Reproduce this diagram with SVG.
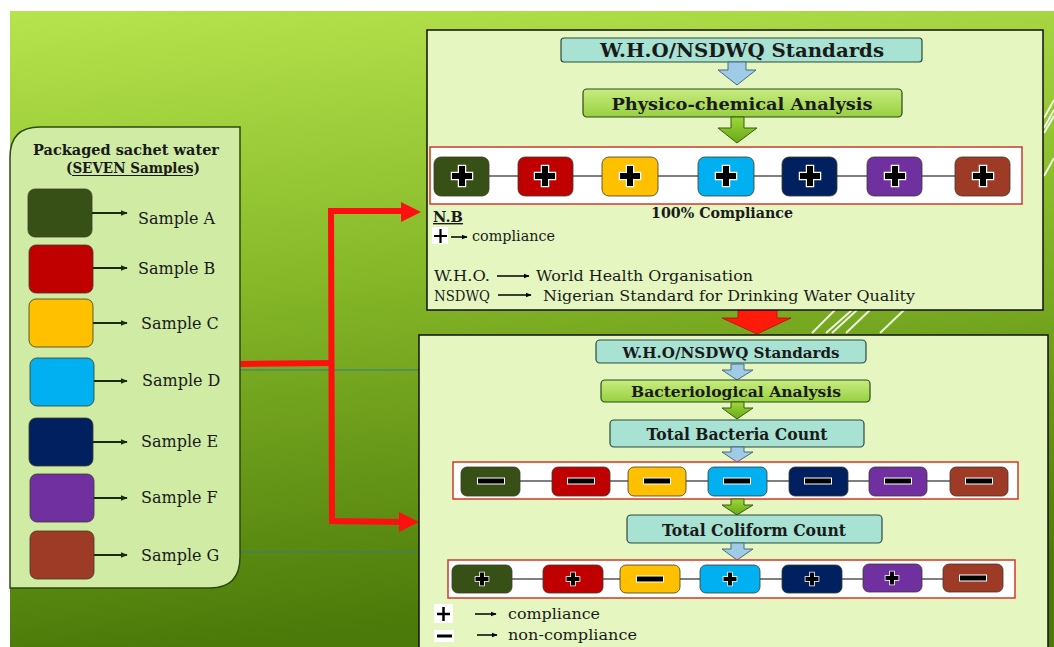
<svg xmlns="http://www.w3.org/2000/svg" width="1054" height="647" viewBox="0 0 1054 647">
<defs>
<linearGradient id="bg" x1="0" y1="0" x2="0.15" y2="1">
<stop offset="0" stop-color="#b6e44e"/>
<stop offset="0.45" stop-color="#86b828"/>
<stop offset="1" stop-color="#4c7a0a"/>
</linearGradient>
<linearGradient id="grn" x1="0" y1="0" x2="0" y2="1">
<stop offset="0" stop-color="#c8ec80"/>
<stop offset="1" stop-color="#98d040"/>
</linearGradient>
<linearGradient id="grnArrow" x1="0" y1="0" x2="0" y2="1">
<stop offset="0" stop-color="#9ad83a"/>
<stop offset="1" stop-color="#6aa818"/>
</linearGradient>
<path id="plus" d="M-3,-10h6v7h7v6h-7v7h-6v-7h-7v-6h7z" fill="#000" stroke="#fff" stroke-width="2.5" stroke-linejoin="miter" paint-order="stroke"/>
<rect id="minus" x="-13" y="-2.5" width="26" height="5" fill="#000" stroke="#fff" stroke-width="2" paint-order="stroke"/>
<marker id="ah" viewBox="0 0 10 10" refX="9" refY="5" markerWidth="7" markerHeight="7" markerUnits="userSpaceOnUse" orient="auto">
<path d="M0,1 L10,5 L0,9 z" fill="#1a2a08"/>
</marker>
<marker id="ahk" viewBox="0 0 10 10" refX="9" refY="5" markerWidth="6" markerHeight="6" markerUnits="userSpaceOnUse" orient="auto">
<path d="M0,1 L10,5 L0,9 z" fill="#000"/>
</marker>
</defs>
<style>
.t{font-family:"DejaVu Serif","Liberation Serif",serif;fill:#1a1a1a}
.b{font-family:"DejaVu Serif","Liberation Serif",serif;font-weight:bold;fill:#1a1a1a}
.teal{fill:#a8e2d2;stroke:#2c4a3c;stroke-width:1.2}
.gbox{fill:url(#grn);stroke:#2c4a1c;stroke-width:1.2}
.panel{fill:#e5f6c0;stroke:#111;stroke-width:1.5}
.row{fill:#fff;stroke:#d03a2a;stroke-width:1.5}
.link{stroke:#555;stroke-width:1.5}
.sq{stroke:#3a3a2a;stroke-width:0.8}
.blueA{fill:#9fcbe6;stroke:#4a6a80;stroke-width:1}
.greenA{fill:url(#grnArrow);stroke:#3a5a10;stroke-width:1}
.sarrow{stroke:#1a2a08;stroke-width:2;fill:none;marker-end:url(#ah)}
.karrow{stroke:#000;stroke-width:1.5;fill:none;marker-end:url(#ahk)}
</style>

<rect x="0" y="0" width="1054" height="647" fill="#fff"/>
<rect x="10" y="11" width="1044" height="636" fill="url(#bg)"/>

<!-- white decorative stripes -->
<g stroke="#fff" stroke-width="2" opacity="0.85">
<line x1="1044" y1="118" x2="1054" y2="100"/>
<line x1="1044" y1="128" x2="1054" y2="110"/>
<line x1="1044" y1="133" x2="1054" y2="116"/>
<line x1="1044" y1="176" x2="1054" y2="158"/>
<line x1="812" y1="333" x2="835" y2="310"/>
<line x1="826" y1="333" x2="852" y2="310"/>
<line x1="832" y1="333" x2="857" y2="310"/>
<line x1="846" y1="333" x2="870" y2="310"/>
<line x1="880" y1="333" x2="904" y2="310"/>
</g>

<!-- connectors -->
<g id="connectors">
<line x1="240" y1="370" x2="420" y2="370" stroke="#2f7f86" stroke-width="1.2"/>
<line x1="240" y1="552" x2="420" y2="552" stroke="#2f7f86" stroke-width="1.2"/>
<g fill="none" stroke="#ff1010" stroke-width="6" stroke-linejoin="miter">
<polyline points="240,364 331,363"/>
<polyline points="404,211 331,211 332,521 400,522"/>
</g>
<path d="M401,202 L421,212 L401,222 z" fill="#ff1010"/>
<path d="M399,512 L419,522 L399,532 z" fill="#ff1010"/>
<path d="M738,309 H777 V318 H791 L757,334 L722,318 H738 z" fill="#ff1a0a" stroke="#b01010" stroke-width="0.8"/>
</g>

<!-- left panel -->
<g id="samples">
<path d="M10,588 V157 Q10,127 40,127 H240 V557 Q240,588 210,588 Z" fill="#cfeba4" stroke="#2e4a10" stroke-width="1.5"/>
<text class="b" x="126" y="155" text-anchor="middle" font-size="15" textLength="186" lengthAdjust="spacingAndGlyphs">Packaged sachet water</text>
<text class="b" x="133" y="173" text-anchor="middle" font-size="14" textLength="134" lengthAdjust="spacingAndGlyphs">(SEVEN Samples)</text>
<line x1="72" y1="175.5" x2="193" y2="175.5" stroke="#1a1a1a" stroke-width="1"/>
<g id="sA"><rect class="sq" x="28" y="189" width="64" height="48" rx="7" fill="#375016"/><line class="sarrow" x1="92" y1="213" x2="127" y2="213"/><text class="t" x="138" y="224" font-size="16">Sample A</text></g>
<g id="sB"><rect class="sq" x="29" y="245" width="64" height="48" rx="7" fill="#c00000"/><line class="sarrow" x1="93" y1="268" x2="127" y2="268"/><text class="t" x="138" y="274" font-size="16">Sample B</text></g>
<g id="sC"><rect class="sq" x="29" y="299" width="64" height="48" rx="7" fill="#ffc000"/><line class="sarrow" x1="93" y1="323" x2="127" y2="323"/><text class="t" x="141" y="329" font-size="16">Sample C</text></g>
<g id="sD"><rect class="sq" x="30" y="358" width="64" height="48" rx="7" fill="#00b0f0"/><line class="sarrow" x1="94" y1="381" x2="127" y2="381"/><text class="t" x="142" y="386" font-size="16">Sample D</text></g>
<g id="sE"><rect class="sq" x="29" y="418" width="64" height="48" rx="7" fill="#002060"/><line class="sarrow" x1="93" y1="442" x2="127" y2="442"/><text class="t" x="141" y="447" font-size="16">Sample E</text></g>
<g id="sF"><rect class="sq" x="30" y="474" width="64" height="48" rx="7" fill="#7030a0"/><line class="sarrow" x1="94" y1="498" x2="127" y2="498"/><text class="t" x="141" y="503" font-size="16">Sample F</text></g>
<g id="sG"><rect class="sq" x="30" y="531" width="64" height="48" rx="7" fill="#9e3b27"/><line class="sarrow" x1="94" y1="555" x2="127" y2="555"/><text class="t" x="141" y="561" font-size="16">Sample G</text></g>
</g>

<!-- top box: physico-chemical -->
<g id="physico">
<rect class="panel" x="427" y="30" width="616" height="280"/>
<g id="std1"><rect class="teal" x="561" y="38" width="361" height="24" rx="3"/>
<text class="b" x="742" y="57" text-anchor="middle" font-size="18" textLength="284" lengthAdjust="spacingAndGlyphs">W.H.O/NSDWQ Standards</text></g>
<path class="blueA" d="M728,62 H746 V70 H756 L737,85 L718,70 H728 z"/>
<g id="pca"><rect class="gbox" x="583" y="89" width="319" height="28" rx="4"/>
<text class="b" x="742" y="110" text-anchor="middle" font-size="16" textLength="261" lengthAdjust="spacingAndGlyphs">Physico-chemical Analysis</text></g>
<path class="greenA" d="M731,117 H744 V128 H757 L737,143 L718,128 H731 z"/>
<g id="row1">
<rect class="row" x="430" y="147" width="592" height="57"/>
<g class="link"><line x1="489" y1="176" x2="518" y2="176"/><line x1="573" y1="176" x2="602" y2="176"/><line x1="658" y1="176" x2="698" y2="176"/><line x1="754" y1="176" x2="782" y2="176"/><line x1="837" y1="176" x2="867" y2="176"/><line x1="922" y1="176" x2="955" y2="176"/></g>
<rect class="sq" x="434" y="157" width="55" height="39" rx="7" fill="#375016"/>
<rect class="sq" x="518" y="157" width="55" height="39" rx="7" fill="#c00000"/>
<rect class="sq" x="602" y="157" width="56" height="39" rx="7" fill="#ffc000"/>
<rect class="sq" x="698" y="157" width="56" height="39" rx="7" fill="#00b0f0"/>
<rect class="sq" x="782" y="157" width="55" height="39" rx="7" fill="#002060"/>
<rect class="sq" x="867" y="157" width="55" height="39" rx="7" fill="#7030a0"/>
<rect class="sq" x="955" y="157" width="55" height="39" rx="7" fill="#9e3b27"/>
<use href="#plus" x="462" y="176"/><use href="#plus" x="545" y="176"/><use href="#plus" x="630" y="176"/><use href="#plus" x="726" y="176"/><use href="#plus" x="810" y="176"/><use href="#plus" x="895" y="176"/><use href="#plus" x="983" y="176"/>
</g>
<text class="b" x="722" y="218" text-anchor="middle" font-size="14" textLength="142" lengthAdjust="spacingAndGlyphs">100% Compliance</text>
<text class="b" x="433" y="222" font-size="14" text-decoration="underline" textLength="30" lengthAdjust="spacingAndGlyphs">N.B</text>
<rect x="432" y="227" width="16" height="17" fill="#fff"/>
<path d="M440.5,229 V243 M434,236 H447" stroke="#000" stroke-width="2.2"/>
<line class="karrow" x1="451" y1="237" x2="467" y2="237"/>
<text class="t" x="472" y="241" font-size="15" textLength="83" lengthAdjust="spacingAndGlyphs">compliance</text>
<text class="t" x="434" y="281" font-size="15" textLength="56" lengthAdjust="spacingAndGlyphs">W.H.O.</text>
<line class="karrow" x1="497" y1="276" x2="529" y2="276"/>
<text class="t" x="536" y="281" font-size="15" textLength="217" lengthAdjust="spacingAndGlyphs">World Health Organisation</text>
<text class="t" x="434" y="301" font-size="15" textLength="56" lengthAdjust="spacingAndGlyphs">NSDWQ</text>
<line class="karrow" x1="498" y1="295" x2="531" y2="295"/>
<text class="t" x="543" y="301" font-size="15" textLength="372" lengthAdjust="spacingAndGlyphs">Nigerian Standard for Drinking Water Quality</text>
</g>

<!-- bottom box: bacteriological -->
<g id="bacterio">
<rect class="panel" x="419" y="335" width="629" height="320"/>
<g id="std2"><rect class="teal" x="596" y="340" width="270" height="23" rx="4"/>
<text class="b" x="731" y="358" text-anchor="middle" font-size="15" textLength="217" lengthAdjust="spacingAndGlyphs">W.H.O/NSDWQ Standards</text></g>
<path class="blueA" d="M731,364 H744 V370 H753 L737,380 L722,370 H731 z"/>
<g id="bact"><rect class="gbox" x="601" y="380" width="269" height="22" rx="4"/>
<text class="b" x="736" y="397" text-anchor="middle" font-size="15" textLength="210" lengthAdjust="spacingAndGlyphs">Bacteriological Analysis</text></g>
<path class="greenA" d="M731,402 H744 V408 H753 L737,419 L722,408 H731 z"/>
<g id="tbc"><rect class="teal" x="610" y="420" width="254" height="27" rx="4"/>
<text class="b" x="737" y="440" text-anchor="middle" font-size="16" textLength="181" lengthAdjust="spacingAndGlyphs">Total Bacteria Count</text></g>
<path class="blueA" d="M731,447 H744 V452 H753 L737,462 L722,452 H731 z"/>
<g id="row2">
<rect class="row" x="453" y="462" width="565" height="37"/>
<g class="link"><line x1="520" y1="481" x2="552" y2="481"/><line x1="610" y1="481" x2="628" y2="481"/><line x1="686" y1="481" x2="708" y2="481"/><line x1="767" y1="481" x2="789" y2="481"/><line x1="848" y1="481" x2="869" y2="481"/><line x1="927" y1="481" x2="950" y2="481"/></g>
<rect class="sq" x="461" y="467" width="59" height="29" rx="6" fill="#375016"/>
<rect class="sq" x="552" y="467" width="58" height="29" rx="6" fill="#c00000"/>
<rect class="sq" x="628" y="467" width="58" height="29" rx="6" fill="#ffc000"/>
<rect class="sq" x="708" y="467" width="59" height="29" rx="6" fill="#00b0f0"/>
<rect class="sq" x="789" y="467" width="59" height="29" rx="6" fill="#002060"/>
<rect class="sq" x="869" y="467" width="58" height="29" rx="6" fill="#7030a0"/>
<rect class="sq" x="950" y="467" width="58" height="29" rx="6" fill="#9e3b27"/>
<use href="#minus" x="491" y="481"/><use href="#minus" x="581" y="481"/><use href="#minus" x="657" y="481"/><use href="#minus" x="737" y="481"/><use href="#minus" x="818" y="481"/><use href="#minus" x="898" y="481"/><use href="#minus" x="979" y="481"/>
</g>
<path class="greenA" d="M731,499 H744 V505 H753 L737,515 L722,505 H731 z"/>
<g id="tcc"><rect class="teal" x="627" y="515" width="255" height="28" rx="4"/>
<text class="b" x="754" y="536" text-anchor="middle" font-size="16" textLength="184" lengthAdjust="spacingAndGlyphs">Total Coliform Count</text></g>
<path class="blueA" d="M731,543 H744 V549 H753 L737,560 L722,549 H731 z"/>
<g id="row3">
<rect class="row" x="448" y="560" width="567" height="38"/>
<g class="link"><line x1="512" y1="579" x2="543" y2="579"/><line x1="603" y1="579" x2="620" y2="579"/><line x1="680" y1="579" x2="700" y2="579"/><line x1="760" y1="579" x2="782" y2="579"/><line x1="842" y1="579" x2="863" y2="579"/><line x1="922" y1="579" x2="943" y2="579"/></g>
<rect class="sq" x="452" y="565" width="60" height="28" rx="6" fill="#375016"/>
<rect class="sq" x="543" y="565" width="60" height="28" rx="6" fill="#c00000"/>
<rect class="sq" x="620" y="565" width="60" height="28" rx="6" fill="#ffc000"/>
<rect class="sq" x="700" y="565" width="60" height="28" rx="6" fill="#00b0f0"/>
<rect class="sq" x="782" y="565" width="60" height="28" rx="6" fill="#002060"/>
<rect class="sq" x="863" y="564" width="59" height="28" rx="6" fill="#7030a0"/>
<rect class="sq" x="943" y="564" width="60" height="28" rx="6" fill="#9e3b27"/>
<use href="#plus" transform="translate(482,579) scale(0.65)"/>
<use href="#plus" transform="translate(573,579) scale(0.65)"/>
<use href="#minus" x="650" y="579"/>
<use href="#plus" transform="translate(730,579) scale(0.65)"/>
<use href="#plus" transform="translate(812,579) scale(0.65)"/>
<use href="#plus" transform="translate(892,578) scale(0.65)"/>
<use href="#minus" x="973" y="578"/>
</g>
<rect x="434" y="604" width="19" height="19" fill="#fff"/>
<path d="M443.5,607 V621 M437,614 H450" stroke="#000" stroke-width="2.5"/>
<line class="karrow" x1="475" y1="614" x2="496" y2="614"/>
<text class="t" x="508" y="619" font-size="15" textLength="92" lengthAdjust="spacingAndGlyphs">compliance</text>
<rect x="434" y="630" width="20" height="12" fill="#fff"/>
<line x1="437" y1="636" x2="452" y2="636" stroke="#000" stroke-width="3"/>
<line class="karrow" x1="477" y1="635" x2="497" y2="635"/>
<text class="t" x="508" y="640" font-size="15" textLength="129" lengthAdjust="spacingAndGlyphs">non-compliance</text>
</g>
</svg>
